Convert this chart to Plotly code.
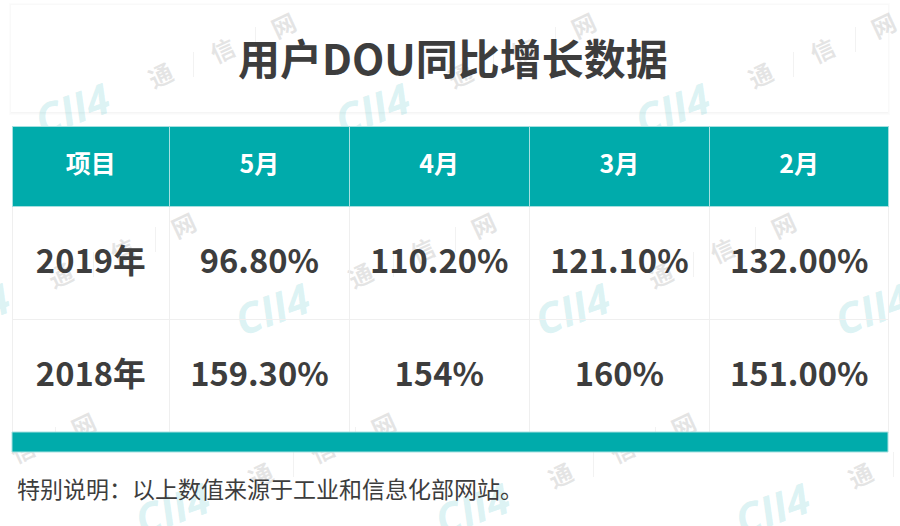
import plotly.graph_objects as go

TITLE = "用户DOU同比增长数据"
NOTE = "特别说明：以上数值来源于工业和信息化部网站。"
COLUMNS = ["项目", "5月", "4月", "3月", "2月"]
YEARS = ["2019年", "2018年"]
MAY = ["96.80%", "159.30%"]
APR = ["110.20%", "154%"]
MAR = ["121.10%", "160%"]
FEB = ["132.00%", "151.00%"]

W, H = 900, 526
TEAL = "#00abab"
INK = "#3d3d3d"
FONT = "Noto Sans CJK SC"
WM = "rgba(150,150,150,0.25)"
LOGO = "rgba(120,208,212,0.27)"


def px(v):
    return v / W


def py(v):
    return 1 - v / H


def rect(x0, y0, x1, y1, **kw):
    return dict(type="rect", xref="paper", yref="paper", x0=px(x0), x1=px(x1),
                y0=py(y0), y1=py(y1), **kw)


shapes = []
# title card with soft shadow
for i, c in enumerate(["#fcfcfc", "#f9f9f9", "#f5f5f5"]):
    shapes.append(rect(11 - (2 - i), 5 - (2 - i), 888 + (2 - i), 113 + (2 - i),
                       fillcolor=c, line_width=0, layer="below"))
shapes.append(rect(11, 5, 888, 112, fillcolor="white", line_width=0, layer="below"))


def glyph(cx, cy, text, size, color, angle, w=40, family=FONT):
    return rect(cx - w, cy - w, cx + w, cy + w, fillcolor="rgba(0,0,0,0)", line_width=0, layer="below",
                label=dict(text=text, textangle=angle, textposition="middle center",
                           font=dict(family=family, size=size, color=color)))


def visible(x, y, margin=8):
    return -margin < x < W + margin and -margin < y < H + margin


# repeating watermark tile
for row, ox in enumerate([0, -100, -200]):
    dy = row * 200
    for k in range(0, 5):
        dx = ox + k * 300
        for cx, cy, ch in [(162, 78, "通"), (224, 53, "信"), (285, 28, "网")]:
            if visible(cx + dx, cy + dy):
                shapes.append(glyph(cx + dx, cy + dy, f"<b>{ch}</b>", 24, WM, -25))
        for sx, sy in [(193, 52), (255, 27)]:
            if visible(sx + dx, sy + dy):
                shapes.append(rect(sx + dx, sy + dy, sx + 0.6 + dx, sy + 25 + dy,
                                   fillcolor="rgba(170,170,170,0.25)", line_width=0, layer="below"))
        if visible(73 + dx, 111 + dy, 30):
            shapes.append(glyph(73 + dx, 111 + dy, "<b><i>CII4</i></b>", 42, LOGO, -20, w=60, family="Open Sans"))

# footer band
shapes.append(rect(12, 432, 888, 452, fillcolor=TEAL, layer="above",
                   line=dict(color="#a8e0e0", width=1)))


def sized(text, size):
    return f"<span style='font-size:1px'>&nbsp;</span><br><span style='font-size:{size}px'><b>{text}</b></span>"


table = go.Table(
    domain=dict(x=[px(12), px(889)], y=[py(434), py(126)]),
    columnwidth=[157.5, 179.5, 180, 180, 179.5],
    header=dict(
        values=[sized(c, 25) for c in COLUMNS],
        height=80,
        align="center",
        fill_color=TEAL,
        line=dict(color="#a5e0e0", width=1),
        font=dict(family=FONT, size=29.5, color="white"),
    ),
    cells=dict(
        values=[[sized(v, 32.7) for v in col] for col in (YEARS, MAY, APR, MAR, FEB)],
        height=113,
        align="center",
        fill_color="rgba(0,0,0,0)",
        line=dict(color="#efefef", width=1),
        font=dict(family=FONT, size=45, color=INK),
    ),
)

fig = go.Figure(table)
fig.update_layout(
    width=W, height=H,
    margin=dict(l=0, r=0, t=0, b=0),
    paper_bgcolor="white",
    showlegend=False,
    shapes=shapes,
    annotations=[
        dict(text=f"<b>{TITLE}</b>", xref="paper", yref="paper", x=px(452.5), y=py(56),
             xanchor="center", yanchor="middle", showarrow=False,
             font=dict(family=FONT, size=42, color=INK)),
        dict(text=NOTE, xref="paper", yref="paper", x=px(15), y=py(488),
             xanchor="left", yanchor="middle", showarrow=False,
             font=dict(family=FONT, size=23, color=INK)),
    ],
)
fig.write_html("out.html", config={"displayModeBar": False},
               post_script="document.body.style.margin='0';")
